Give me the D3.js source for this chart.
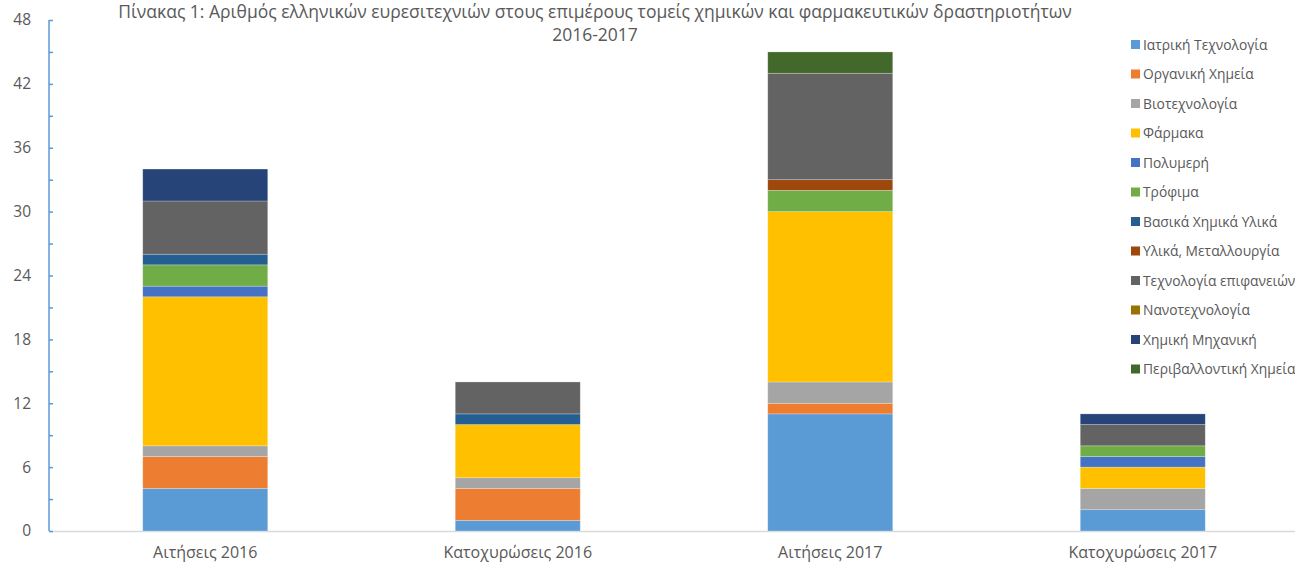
<!DOCTYPE html>
<html><head><meta charset="utf-8">
<script src="https://cdn.jsdelivr.net/npm/d3@7"></script>
<style>body{margin:0;background:#fff}svg{display:block}</style>
</head><body>
<svg id="c" width="1295" height="564"></svg>
<script>
const categories = ["Αιτήσεις 2016","Κατοχυρώσεις 2016","Αιτήσεις 2017","Κατοχυρώσεις 2017"];
const seriesNames = ["Ιατρική Τεχνολογία","Οργανική Χημεία","Βιοτεχνολογία","Φάρμακα","Πολυμερή","Τρόφιμα","Βασικά Χημικά Υλικά","Υλικά, Μεταλλουργία","Τεχνολογία επιφανειών","Νανοτεχνολογία","Χημική Μηχανική","Περιβαλλοντική Χημεία"];
const seriesColors = ["#5b9bd5","#ed7d31","#a5a5a5","#ffc000","#4472c4","#70ad47","#255e91","#9e480e","#636363","#997300","#264478","#43682b"];
const iatriki = [4,1,11,2];
const organiki = [3,3,1,0];
const biotech = [1,1,2,2];
const farmaka = [14,5,16,2];
const polymeri = [1,0,0,1];
const trofima = [2,0,2,1];
const vasika = [1,1,0,0];
const ylika = [0,0,1,0];
const epifaneies = [5,3,10,2];
const nano = [0,0,0,0];
const xhmikiMix = [3,0,0,1];
const perivallon = [0,0,2,0];
const seriesValues = [iatriki,organiki,biotech,farmaka,polymeri,trofima,vasika,ylika,epifaneies,nano,xhmikiMix,perivallon];
const yTicks = [0,6,12,18,24,30,36,42,48];
const titleLines = ["Πίνακας 1: Αριθμός ελληνικών ευρεσιτεχνιών στους επιμέρους τομείς χημικών και φαρμακευτικών δραστηριοτήτων","2016-2017"];

const svg = d3.select("#c");
const font = "'Open Sans', sans-serif";
const mLeft = 49, mRight = 1299, mTop = 20, mBottom = 531;

const table = categories.map((c,i)=>{const o={cat:c}; seriesNames.forEach((s,j)=>o[s]=seriesValues[j][i]); return o;});
const stack = d3.stack().keys(seriesNames)(table);

const x = d3.scaleBand().domain(categories).range([mLeft,mRight]).paddingInner(0.6).paddingOuter(0.3);
const y = d3.scaleLinear().domain([0,48]).range([mBottom,mTop]);

// x axis line
svg.append("line").attr("x1",mLeft).attr("x2",1295).attr("y1",mBottom+0.5).attr("y2",mBottom+0.5)
  .attr("stroke","#d9d9d9").attr("stroke-width",1.5);

// bars
stack.forEach((layer,j)=>{
  svg.append("g").selectAll("rect").data(layer.filter(d=>d[1]-d[0]>0)).join("rect")
    .attr("x",d=>x(d.data.cat)).attr("width",x.bandwidth())
    .attr("y",d=>y(d[1])).attr("height",d=>y(d[0])-y(d[1]))
    .attr("fill",seriesColors[j]).attr("stroke","#ffffff").attr("stroke-opacity",0.35).attr("stroke-width",0.7);
});

// y axis
const yAxis = d3.axisRight(y).tickValues(d3.range(0,49,3)).tickSize(4).tickFormat("");
const ga = svg.append("g").attr("transform",`translate(${mLeft},0)`).call(yAxis);
ga.select(".domain").attr("stroke","#5b9bd5").attr("stroke-width",1.5).attr("d",`M0,${mTop}V${mBottom}`);
ga.selectAll(".tick line").attr("stroke","#5b9bd5").attr("stroke-width",1.5);
svg.append("g").selectAll("text").data(yTicks).join("text")
  .attr("x",31).attr("y",d=>y(d)).attr("dy","0.35em").attr("text-anchor","end")
  .attr("font-family",font).attr("font-size",15.5).attr("fill","#595959").text(d=>d);

// x labels
svg.append("g").selectAll("text").data(categories).join("text")
  .attr("x",d=>x(d)+x.bandwidth()/2).attr("y",558).attr("text-anchor","middle")
  .attr("font-family",font).attr("font-size",16).attr("fill","#595959").text(d=>d);

// title
svg.append("g").selectAll("text").data(titleLines).join("text")
  .attr("x",595).attr("y",(d,i)=>18+i*23).attr("text-anchor","middle")
  .attr("font-family",font).attr("font-size",17.5).attr("fill","#595959").text(d=>d);

// legend
const lg = svg.append("g");
seriesNames.forEach((s,i)=>{
  const yy = 45 + i*29.5;
  lg.append("rect").attr("x",1131).attr("y",yy-5).attr("width",9).attr("height",9).attr("fill",seriesColors[i]);
  lg.append("text").attr("x",1143).attr("y",yy).attr("dy","0.35em")
    .attr("font-family",font).attr("font-size",13.8).attr("fill","#595959").text(s);
});
</script>
</body></html>
